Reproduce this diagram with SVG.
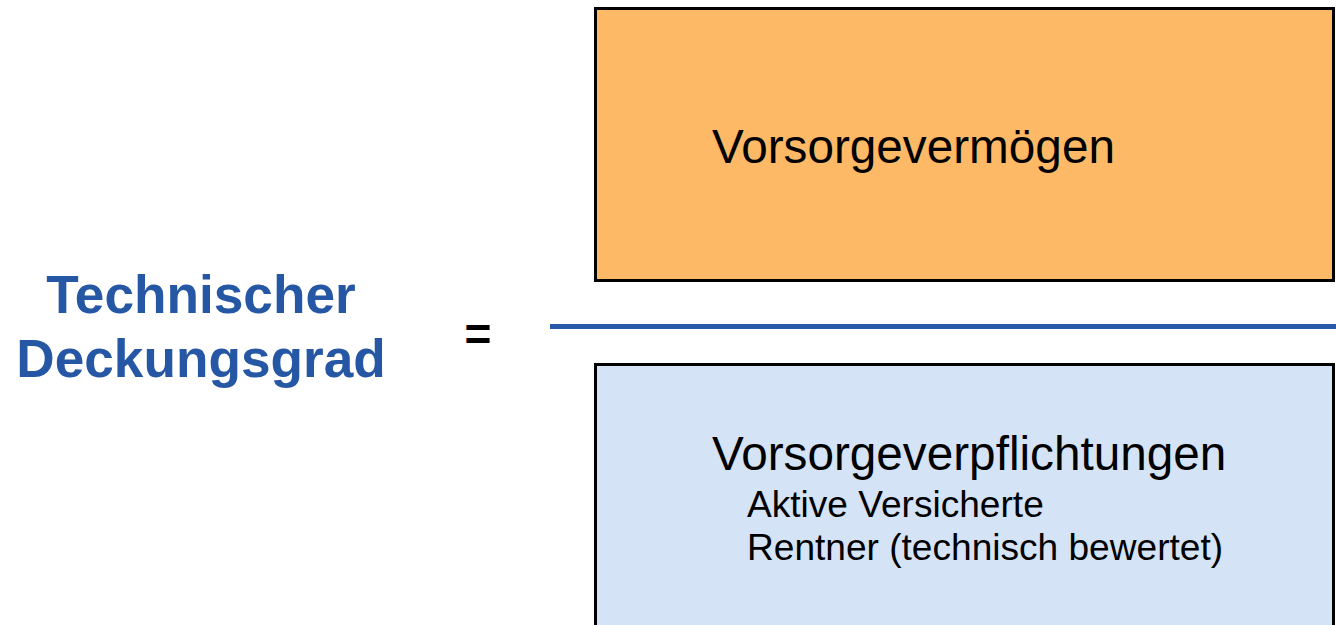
<svg xmlns="http://www.w3.org/2000/svg" width="1336" height="625" viewBox="0 0 1336 625">
<style>
.box{stroke:#000;stroke-width:3}
.t{font-family:"Liberation Sans",Arial,sans-serif;fill:#000}
.title{font-family:"Liberation Sans",Arial,sans-serif;font-weight:bold;fill:#2557A5;font-size:53.2px;text-anchor:middle}
</style>
<rect width="1336" height="625" fill="#fff"/>
<g id="title">
<text class="title" x="201" y="313">Technischer</text>
<text class="title" x="201" y="377">Deckungsgrad</text>
</g>
<g id="equals">
<text class="t" x="478" y="350" font-size="46" font-weight="bold" text-anchor="middle">=</text>
</g>
<g id="numerator">
<rect class="box" x="595.5" y="8.5" width="738" height="272" fill="#FDB965"/>
<text class="t" x="712" y="163" font-size="47.7">Vorsorgevermögen</text>
</g>
<g id="connectors">
<line x1="550" y1="326.5" x2="1336" y2="326.5" stroke="#2858A7" stroke-width="5"/>
</g>
<g id="denominator">
<rect class="box" x="595.5" y="364.5" width="738" height="280" fill="#D5E3F6"/>
<text class="t" x="712" y="470" font-size="47.7">Vorsorgeverpflichtungen</text>
<text class="t" x="747" y="517" font-size="37.1">Aktive Versicherte</text>
<text class="t" x="747" y="560" font-size="37.1">Rentner (technisch bewertet)</text>
</g>
</svg>
